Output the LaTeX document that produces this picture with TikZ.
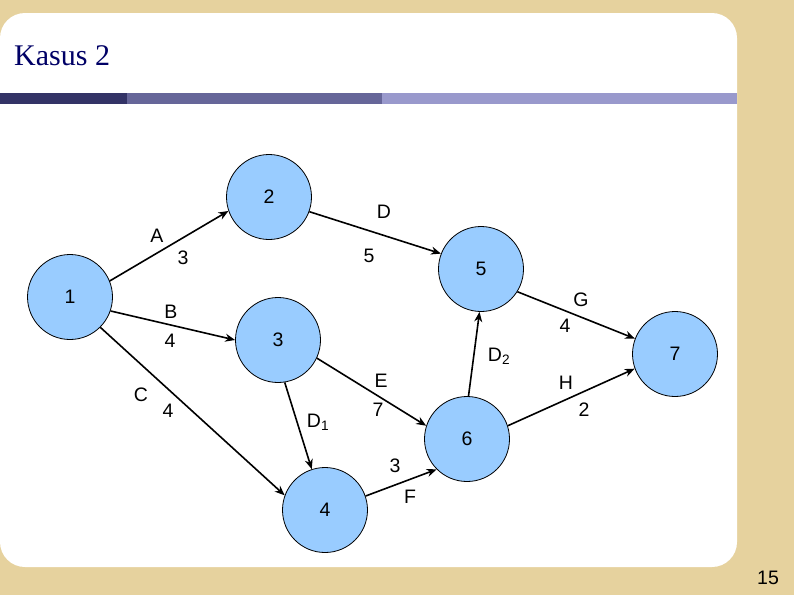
\documentclass[tikz,border=0pt]{standalone}
\usepackage{fontspec}
\setmainfont{Liberation Sans}
\newfontfamily\titlefont{Liberation Serif}
\usetikzlibrary{arrows.meta}
\definecolor{paper}{RGB}{230,210,158}
\definecolor{nodeblue}{RGB}{153,204,255}
\definecolor{titlenavy}{RGB}{0,0,102}
\definecolor{bardark}{RGB}{51,51,102}
\definecolor{barmid}{RGB}{102,102,153}
\definecolor{barlight}{RGB}{153,153,204}

\begin{document}
\begin{tikzpicture}
            [
                x=1pt, y=-1pt,
                event/.style={circle, draw, line width=0.8pt, fill=nodeblue, minimum size=85pt, inner sep=0pt, font=\fontsize{19.5}{22}\selectfont},
                lbl/.style={inner sep=0pt, font=\fontsize{19.5}{22}\selectfont},
                act/.style={line width=1.6pt, -{Stealth[length=10pt, width=8pt]}}
            ]
            %background
            \useasboundingbox (0,0) rectangle (794,595);
            \fill[paper] (0,0) rectangle (794,595);
            \fill[white, rounded corners=25pt] (0,13) rectangle (737,567);
            \fill[bardark]  (0,93)   rectangle (127,104);
            \fill[barmid]   (127,93) rectangle (382,104);
            \fill[barlight] (382,93) rectangle (737,104);
            \node[anchor=west, inner sep=0pt, text=titlenavy, font=\titlefont\fontsize{30}{34}\selectfont] (title) at (14,56) {Kasus 2};
            \node[lbl] (page_no) at (768,578) {15};
            %nodes
            \node[event] at (70,297)  (n1) {1};
            \node[event] at (269,197) (n2) {2};
            \node[event] at (278,340) (n3) {3};
            \node[event] at (325,510) (n4) {4};
            \node[event] at (481,269) (n5) {5};
            \node[event] at (467,439) (n6) {6};
            \node[event] at (675,354) (n7) {7};
            %arrows
            \draw[act] (n1.22)  -- (n2.199);
            \draw[act] (n2.340) -- (n5.159);
            \draw[act] (n1.341) -- (n3.180);
            \draw[act] (n1.315) -- (n4.160);
            \draw[act] (n3.279) -- (n4.108);
            \draw[act] (n3.335) -- (n6.162);
            \draw[act] (n4.19)  -- (n6.225);
            \draw[act] (n6.88)  -- (n5.268);
            \draw[act] (n5.328) -- (n7.159);
            \draw[act] (n6.18)  -- (n7.200);
            %labels
            \node[lbl] at (157,236) (lbl_a)  {A};
            \node[lbl] at (183,258) (dur_a)  {3};
            \node[lbl] at (384,212) (lbl_d)  {D};
            \node[lbl] at (369,256) (dur_d)  {5};
            \node[lbl] at (171,312) (lbl_b)  {B};
            \node[lbl] at (170,341) (dur_b)  {4};
            \node[lbl] at (141,395) (lbl_c)  {C};
            \node[lbl] at (168,411) (dur_c)  {4};
            \node[lbl] at (318,422) (lbl_d1) {D\textsubscript{1}};
            \node[lbl] at (381,381) (lbl_e)  {E};
            \node[lbl] at (378,410) (dur_e)  {7};
            \node[lbl] at (395,466) (dur_f)  {3};
            \node[lbl] at (410,497) (lbl_f)  {F};
            \node[lbl] at (499,356) (lbl_d2) {D\textsubscript{2}};
            \node[lbl] at (581,300) (lbl_g)  {G};
            \node[lbl] at (565,326) (dur_g)  {4};
            \node[lbl] at (566,383) (lbl_h)  {H};
            \node[lbl] at (584,410) (dur_h)  {2};
        \end{tikzpicture}
\end{document}
